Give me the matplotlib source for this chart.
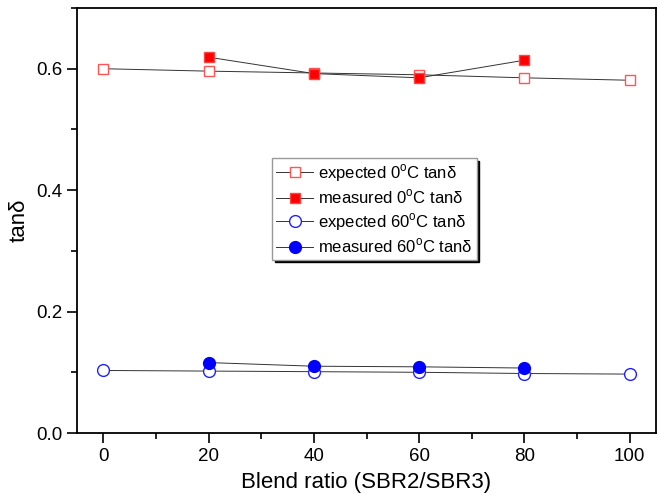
import matplotlib
matplotlib.use("Agg")
import matplotlib.pyplot as plt
from matplotlib.ticker import MultipleLocator

plt.rcParams["font.family"] = ["Liberation Sans", "DejaVu Sans"]
plt.rcParams["mathtext.fontset"] = "custom"
plt.rcParams["mathtext.rm"] = "Liberation Sans"

blend = [0, 20, 40, 60, 80, 100]
blend_meas = [20, 40, 60, 80]

exp_0c = [0.600, 0.596, 0.593, 0.590, 0.585, 0.581]
meas_0c = [0.619, 0.592, 0.585, 0.614]
exp_60c = [0.103, 0.102, 0.101, 0.100, 0.098, 0.097]
meas_60c = [0.116, 0.110, 0.109, 0.107]

labels = [
    "expected 0$^\\mathrm{o}$C tanδ",
    "measured 0$^\\mathrm{o}$C tanδ",
    "expected 60$^\\mathrm{o}$C tanδ",
    "measured 60$^\\mathrm{o}$C tanδ",
]

fig = plt.figure(figsize=(6.58, 4.99), dpi=100)
ax = fig.add_axes([77 / 658, 1 - 433 / 499, 579 / 658, 425 / 499])

line_kw = dict(color="#333333", linewidth=0.7, markersize=7.5)
ax.plot(blend, exp_0c, marker="s", markerfacecolor="white",
        markeredgecolor="#ff5555", markeredgewidth=1.0, label=labels[0], **line_kw)
ax.plot(blend_meas, meas_0c, marker="s", markerfacecolor="red",
        markeredgecolor="#ff4444", markeredgewidth=1.0, label=labels[1], **line_kw)
ax.plot(blend, exp_60c, marker="o", markerfacecolor="white",
        markeredgecolor="#2222ff", markeredgewidth=1.0, label=labels[2],
        color="#333333", linewidth=0.7, markersize=8.5)
ax.plot(blend_meas, meas_60c, marker="o", markerfacecolor="blue",
        markeredgecolor="blue", markeredgewidth=1.0, label=labels[3],
        color="#333333", linewidth=0.7, markersize=8.5)

ax.set_xlim(-5, 105)
ax.set_ylim(0, 0.7)
ax.xaxis.set_major_locator(MultipleLocator(20))
ax.xaxis.set_minor_locator(MultipleLocator(10))
ax.yaxis.set_major_locator(MultipleLocator(0.2))
ax.yaxis.set_minor_locator(MultipleLocator(0.1))
ax.tick_params(which="both", direction="out", width=1.2, labelsize=13.5)
ax.tick_params(which="major", length=7)
ax.tick_params(which="minor", length=4)
for s in ax.spines.values():
    s.set_linewidth(1.3)

ax.set_xlabel("Blend ratio (SBR2/SBR3)", fontsize=16, labelpad=5)
ax.set_ylabel("tanδ", fontsize=16, labelpad=5)

leg = ax.legend(loc="upper left", bbox_to_anchor=(0.337, 0.647), fontsize=12,
                handlelength=2.2, handletextpad=0.3, labelspacing=0.25,
                borderpad=0.25, borderaxespad=0, fancybox=False, framealpha=1,
                edgecolor="#999999", shadow={"color": "black", "alpha": 1})
leg.get_frame().set_linewidth(1.0)

fig.savefig("out.png", dpi=100)
